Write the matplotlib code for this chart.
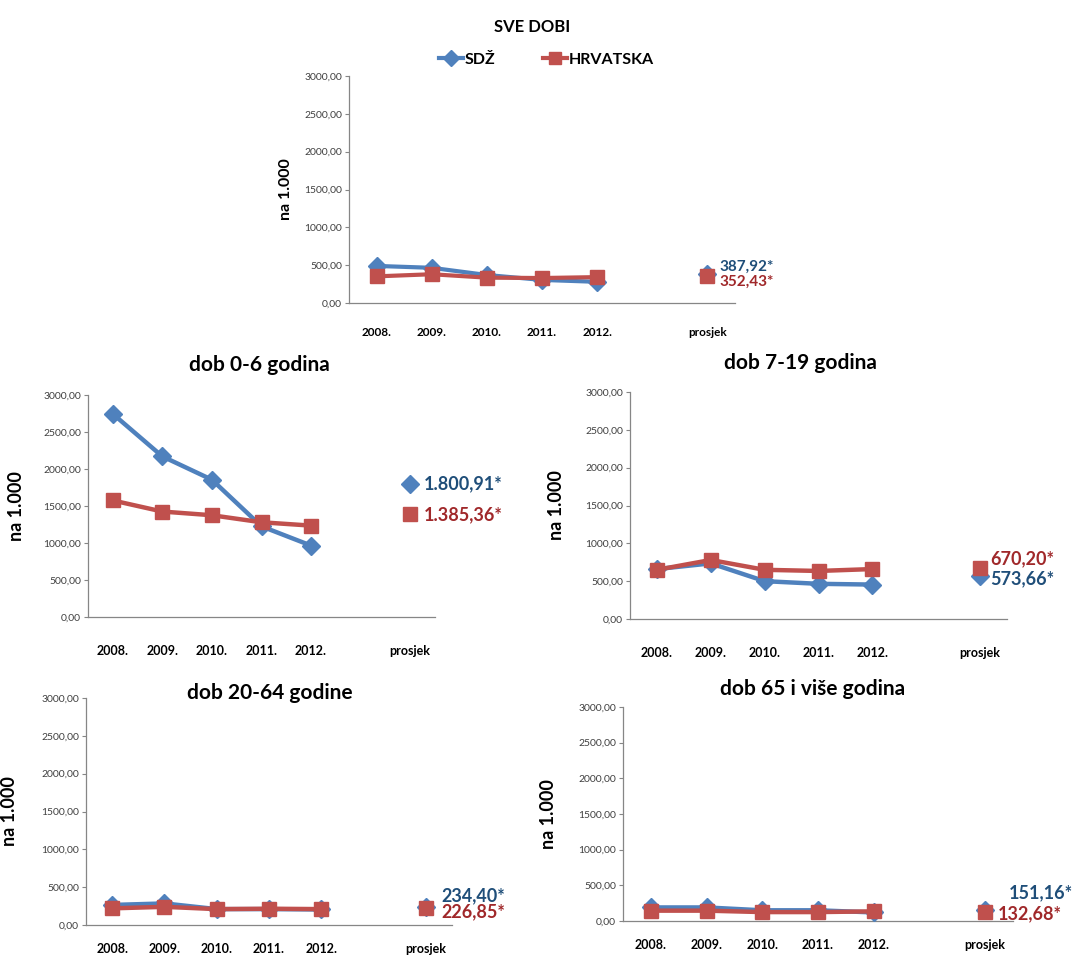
import matplotlib
matplotlib.use("Agg")
import matplotlib.pyplot as plt
from matplotlib.ticker import FuncFormatter
from matplotlib.lines import Line2D

plt.rcParams['font.family'] = ['Lato', 'DejaVu Sans']

# ---- data ----
years = ["2008.", "2009.", "2010.", "2011.", "2012."]
avg_label = "prosjek"
series_names = ["SDŽ", "HRVATSKA"]

titles = ["SVE DOBI", "dob 0-6 godina", "dob 7-19 godina", "dob 20-64 godine", "dob 65 i više godina"]

sdz_all = [490, 465, 370, 305, 280]
hr_all = [352, 380, 335, 330, 342]
sdz_0_6 = [2745, 2170, 1855, 1225, 965]
hr_0_6 = [1575, 1425, 1375, 1280, 1235]
sdz_7_19 = [660, 735, 500, 465, 455]
hr_7_19 = [650, 780, 650, 635, 660]
sdz_20_64 = [265, 285, 210, 210, 205]
hr_20_64 = [220, 240, 210, 215, 210]
sdz_65 = [190, 190, 150, 150, 120]
hr_65 = [145, 145, 125, 125, 135]

avg_sdz = [387.92, 1800.91, 573.66, 234.40, 151.16]
avg_hr = [352.43, 1385.36, 670.20, 226.85, 132.68]
avg_sdz_txt = ["387,92*", "1.800,91*", "573,66*", "234,40*", "151,16*"]
avg_hr_txt = ["352,43*", "1.385,36*", "670,20*", "226,85*", "132,68*"]

sdz_series = [sdz_all, sdz_0_6, sdz_7_19, sdz_20_64, sdz_65]
hr_series = [hr_all, hr_0_6, hr_7_19, hr_20_64, hr_65]

# ---- style / layout ----
BLUE = "#4F81BD"
RED = "#C0504D"
BLUE_T = "#1F4E79"
RED_T = "#A0282A"
W, H = 1082, 960

# axes boxes in pixels: left, right, top, bottom
boxes = [(349, 735, 76, 303), (88, 435, 395, 617), (630, 1007, 392, 619),
         (86, 452, 698, 925), (623, 1013, 707, 921)]
title_pos = [(532, 27), (259, 365), (800, 363), (270, 693), (813, 689)]
ylabel_x = [293, 25, 565, 18, 557]
# label offsets (px): (dx_blue, dy_blue, dx_red, dy_red) ; dy positive = up
lab_off = [(12, 7, 12, -5), (14, 0, 14, 0), (10, -3, 10, 10), (16, 12, 16, -4), (24, 17, 13, -2)]
xt_pad = [17, 20, 20, 13, 13]
xt_size = [8.5, 9, 9, 9, 9]
title_size = [12, 15, 15, 15, 15]
ylab_size = [11.5, 13, 13, 13, 13]
val_size = [11, 13, 13, 13, 13]
lw = [3, 3.2, 3.2, 3.2, 3.2]

fig = plt.figure(figsize=(W / 100, H / 100), dpi=100)

fmt = FuncFormatter(lambda v, p: f"{v:.2f}".replace(".", ","))
cats = list(range(len(years)))
avg_x = len(years) + 1

for i in range(5):
    l, r, t, b = boxes[i]
    ax = fig.add_axes([l / W, 1 - b / H, (r - l) / W, (b - t) / H])
    ax.plot(cats, sdz_series[i], color=BLUE, lw=lw[i], marker="D", ms=9, zorder=3)
    ax.plot(cats, hr_series[i], color=RED, lw=lw[i], marker="s", ms=10, zorder=4)
    ax.plot([avg_x], [avg_sdz[i]], color=BLUE, marker="D", ms=9, ls="none", zorder=3)
    ax.plot([avg_x], [avg_hr[i]], color=RED, marker="s", ms=10, ls="none", zorder=4)
    dxb, dyb, dxr, dyr = lab_off[i]
    ax.annotate(avg_sdz_txt[i], (avg_x, avg_sdz[i]), xytext=(dxb * 0.72, dyb * 0.72),
                textcoords="offset points", ha="left", va="center", color=BLUE_T,
                fontsize=val_size[i], fontweight="bold", annotation_clip=False)
    ax.annotate(avg_hr_txt[i], (avg_x, avg_hr[i]), xytext=(dxr * 0.72, dyr * 0.72),
                textcoords="offset points", ha="left", va="center", color=RED_T,
                fontsize=val_size[i], fontweight="bold", annotation_clip=False)
    ax.set_xlim(-0.5, avg_x + 0.5)
    ax.set_ylim(0, 3000)
    ax.set_yticks([0, 500, 1000, 1500, 2000, 2500, 3000])
    ax.yaxis.set_major_formatter(fmt)
    ax.set_xticks(cats + [avg_x])
    ax.set_xticklabels(years + [avg_label], fontweight="bold", fontsize=xt_size[i])
    ax.tick_params(axis="x", length=0, pad=xt_pad[i])
    ax.tick_params(axis="y", length=3, width=0.8, color="#868686", labelsize=7.5,
                   labelcolor="#404040", pad=2)
    for s in ["top", "right"]:
        ax.spines[s].set_visible(False)
    for s in ["left", "bottom"]:
        ax.spines[s].set_color("#868686")
        ax.spines[s].set_linewidth(0.9)
    ax.set_ylabel("na 1.000", fontweight="bold", fontsize=ylab_size[i])
    ax.yaxis.set_label_coords((ylabel_x[i] - l) / (r - l), 0.5)
    tx, ty = title_pos[i]
    fig.text(tx / W, 1 - ty / H, titles[i], ha="center", va="center",
             fontsize=title_size[i], fontweight="bold")

handles = [Line2D([], [], color=BLUE, lw=3, marker="D", ms=8),
           Line2D([], [], color=RED, lw=3, marker="s", ms=9)]
fig.legend(handles, series_names, loc="center", bbox_to_anchor=(546 / W, 1 - 60 / H),
           ncol=2, frameon=False, handlelength=1.5, handletextpad=0.1, columnspacing=3.0,
           prop={"weight": "bold", "size": 11.5})

fig.savefig("out.png", dpi=100, facecolor="white")
